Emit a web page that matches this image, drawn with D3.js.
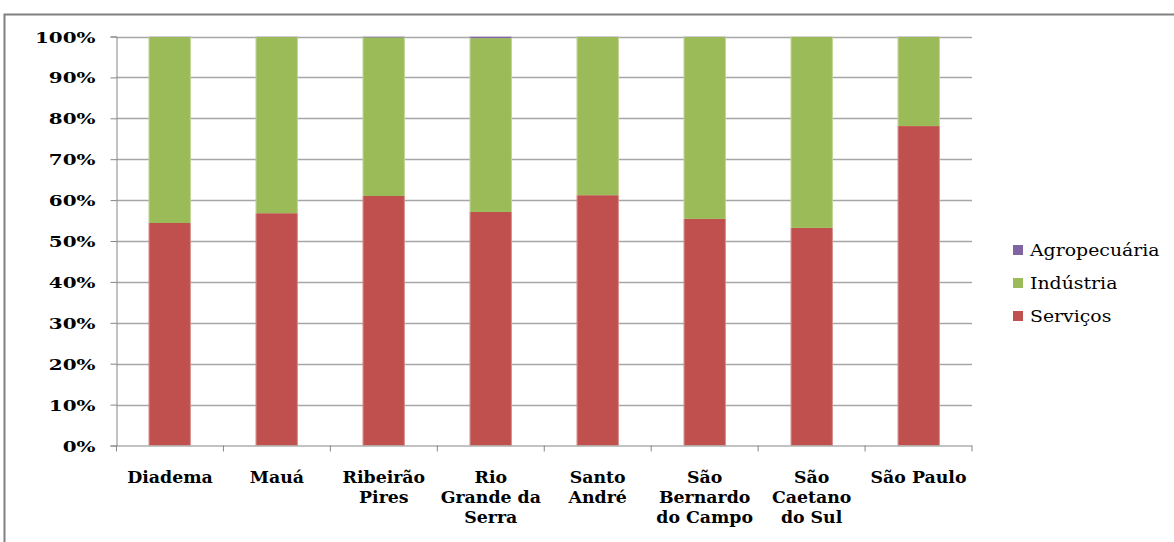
<!DOCTYPE html>
<html>
<head>
<meta charset="utf-8">
<script src="https://cdn.jsdelivr.net/npm/d3@7"></script>
<style>
  body { margin: 0; background: #fff; }
  svg text { fill: #000; }
</style>
</head>
<body>
<div id="chart"></div>
<script>
// Data: share of each sector per municipality (%)
var categories = ["Diadema", "Mauá", "Ribeirão\nPires", "Rio\nGrande da\nSerra", "Santo\nAndré",
    "São\nBernardo\ndo Campo", "São\nCaetano\ndo Sul", "São Paulo"];
var servicos = [54.4, 56.8, 61.0, 57.1, 61.2, 55.4, 53.2, 78.1];
var agropecuaria = [0.1, 0.1, 0.2, 0.4, 0.1, 0.1, 0.05, 0.1];
var industria = servicos.map(function(s, i) { return 100 - s - agropecuaria[i]; });
var seriesNames = ["Serviços", "Indústria", "Agropecuária"];
var seriesColors = ["#C0504D", "#9BBB59", "#8064A2"];
var yTicks = [0, 10, 20, 30, 40, 50, 60, 70, 80, 90, 100];

var serif = "DejaVu Serif";

// Chart box
var width = 1174;
var height = 542;
var plot = { left: 116.5, right: 972, top: 36.5, bottom: 445.5 };

var svg = d3.select("#chart")
    .append("svg")
    .attr("width", width)
    .attr("height", height)
    .style("font-family", serif);

// Outer frame (top and left edges visible)
svg.append("path")
    .attr("d", "M4.5," + height + "V14.5H" + width)
    .attr("fill", "none")
    .attr("stroke", "#808080")
    .attr("stroke-width", 2);

// Build table for stacking
var table = categories.map(function(c, i) {
    return { cat: c, "Serviços": servicos[i], "Indústria": industria[i], "Agropecuária": agropecuaria[i] };
});
var stacked = d3.stack().keys(seriesNames)(table);

var xScale = d3.scaleBand()
    .domain(categories)
    .range([plot.left, plot.right])
    .paddingInner(0.605)
    .paddingOuter(0.3);
var xBand = d3.scaleBand().domain(categories).range([plot.left, plot.right]);
var yScale = d3.scaleLinear().domain([0, 100]).range([plot.bottom, plot.top]);

// Gridlines
svg.append("g")
    .selectAll("line")
    .data(yTicks.filter(function(t) { return t > 0; }))
    .enter()
    .append("line")
    .attr("x1", plot.left)
    .attr("x2", plot.right)
    .attr("y1", function(d) { return Math.round(yScale(d)) + 0.5; })
    .attr("y2", function(d) { return Math.round(yScale(d)) + 0.5; })
    .attr("stroke", "#A6A6A6")
    .attr("stroke-width", 1.5);

// Y axis
var yAxis = svg.append("g")
    .attr("transform", "translate(" + plot.left + ",0)")
    .call(d3.axisLeft(yScale).tickValues(yTicks).tickSize(6).tickFormat(function(d) { return d + "%"; }))
    .attr("font-family", null);
yAxis.select(".domain").attr("stroke", "#868686");
yAxis.selectAll(".tick line").attr("stroke", "#868686");
yAxis.selectAll(".tick text")
    .attr("x", null)
    .attr("dy", null)
    .attr("font-size", 15)
    .attr("font-weight", "bold")
    .attr("text-anchor", "end")
    .attr("transform", "translate(-21,5.5) scale(1.33,1)");

// Bars
var layers = svg.append("g")
    .selectAll("g")
    .data(stacked)
    .enter()
    .append("g")
    .attr("fill", function(d, i) { return seriesColors[i]; });

layers.selectAll("rect")
    .data(function(d) { return d; })
    .enter()
    .append("rect")
    .attr("x", function(d) { return xScale(d.data.cat); })
    .attr("width", xScale.bandwidth())
    .attr("y", function(d) { return yScale(d[1]); })
    .attr("height", function(d) { return Math.max(0, yScale(d[0]) - yScale(d[1])); });

// Light edges on bars
svg.append("g")
    .selectAll("rect")
    .data(categories)
    .enter()
    .append("rect")
    .attr("x", function(d) { return xScale(d) + 0.5; })
    .attr("width", xScale.bandwidth() - 1)
    .attr("y", yScale(100))
    .attr("height", yScale(0) - yScale(100))
    .attr("fill", "none")
    .attr("stroke", "rgba(255,255,255,0.35)")
    .attr("stroke-width", 1);

// X axis
var xAxisG = svg.append("g");
xAxisG.append("line")
    .attr("x1", plot.left).attr("x2", plot.right)
    .attr("y1", plot.bottom + 0.5).attr("y2", plot.bottom + 0.5)
    .attr("stroke", "#868686");
xAxisG.selectAll("line.tick")
    .data(categories.concat(["end"]))
    .enter()
    .append("line")
    .attr("class", "tick")
    .attr("x1", function(d, i) { return i < categories.length ? xBand(d) : plot.right; })
    .attr("x2", function(d, i) { return i < categories.length ? xBand(d) : plot.right; })
    .attr("y1", plot.bottom)
    .attr("y2", plot.bottom + 6)
    .attr("stroke", "#868686");

// X labels (multi-line)
var xLabels = svg.append("g")
    .selectAll("text")
    .data(categories)
    .enter()
    .append("text")
    .attr("text-anchor", "middle")
    .attr("font-size", 17)
    .attr("font-weight", "bold")
    .attr("transform", function(d) {
        return "translate(" + (xBand(d) + xBand.bandwidth() / 2) + ",482.5) scale(1.02,1)";
    });
xLabels.selectAll("tspan")
    .data(function(d) { return d.split("\n"); })
    .enter()
    .append("tspan")
    .attr("x", 0)
    .attr("y", function(d, i) { return i * 20.5; })
    .text(function(d) { return d; });

// Legend (top-down: Agropecuária, Indústria, Serviços)
var legend = svg.append("g")
    .selectAll("g")
    .data(seriesNames.slice().reverse())
    .enter()
    .append("g")
    .attr("transform", function(d, i) { return "translate(1013," + (245 + i * 33) + ")"; });
legend.append("rect")
    .attr("width", 10)
    .attr("height", 10)
    .attr("fill", function(d, i) { return seriesColors[seriesColors.length - 1 - i]; });
legend.append("text")
    .attr("font-size", 16)
    .attr("transform", "translate(17,10.5) scale(1.18,1)")
    .text(function(d) { return d; });
</script>
</body>
</html>
